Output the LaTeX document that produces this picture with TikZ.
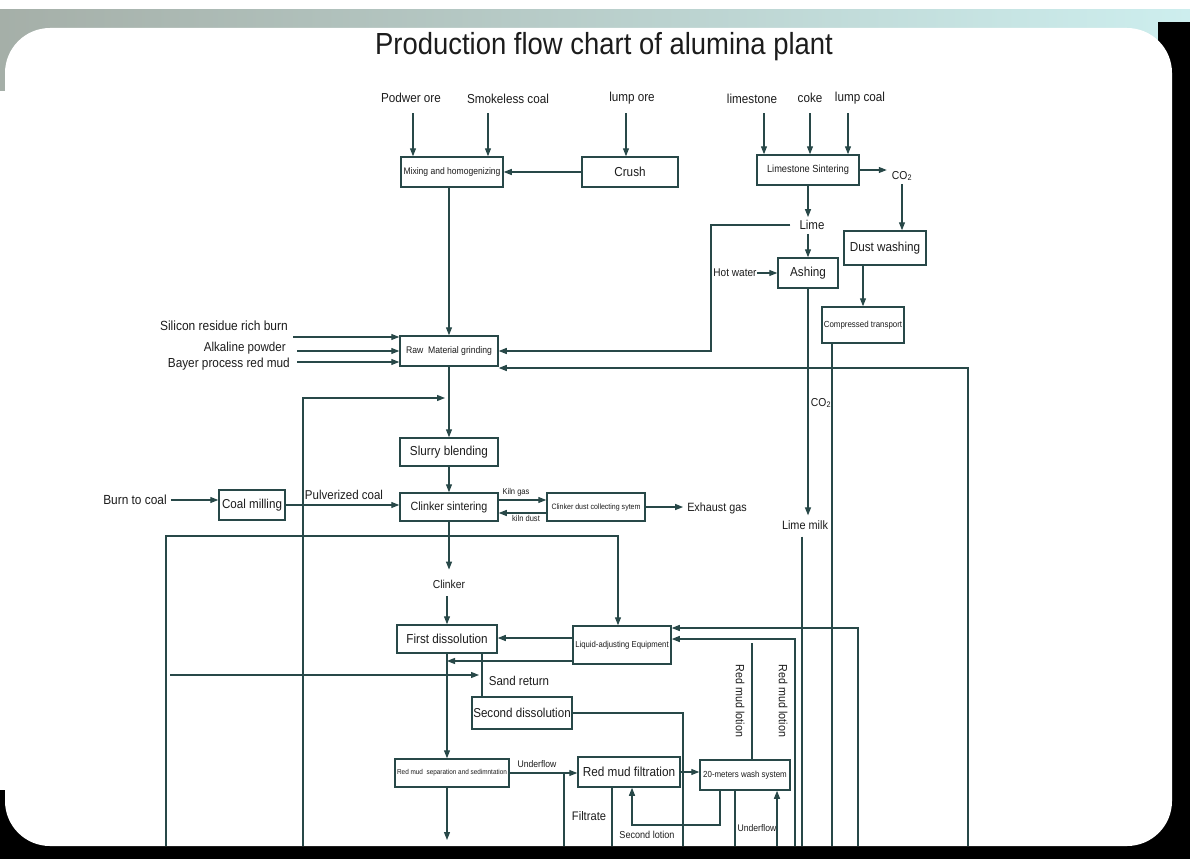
\documentclass[tikz,border=0pt]{standalone}
\usepackage{fontspec}
\setmainfont{Liberation Sans}[FakeStretch=0.9]
\usetikzlibrary{arrows.meta}
\definecolor{lc}{RGB}{40,72,72}
\definecolor{tc}{RGB}{28,28,28}
\definecolor{bandL}{RGB}{165,175,168}
\definecolor{bandR}{RGB}{205,238,238}
\newcommand{\fsz}[1]{\fontsize{#1}{#1}\selectfont}
\begin{document}
\begin{tikzpicture}[x=1pt,y=-1pt,
  ln/.style={draw=lc,line width=1.2pt},
  arr/.style={ln,-{Triangle[length=8pt,width=6pt]}},
  box/.style={draw=lc,line width=1.5pt,inner sep=0pt,text=tc},
  lbl/.style={inner sep=0pt,text=tc}]
% background / frame
\useasboundingbox (0,0) rectangle (1190,859);
\fill[white] (0,0) rectangle (1190,859);
\shade[left color=bandL,right color=bandR] (0,10) rectangle (1190,90);
\fill[black] (1158,22) rectangle (1190,859);
\fill[black] (0,790) rectangle (1190,859);
\fill[white,rounded corners=45pt] (5,28) rectangle (1172,846);

% title
\node[lbl,font=\fsz{30.5}] (title) at (604,47) {Production flow chart of alumina plant};

% top inputs
\node[lbl,font=\fsz{13}] (podw) at (411,98) {Podwer ore};
\node[lbl,font=\fsz{13}] (smok) at (508,99) {Smokeless coal};
\node[lbl,font=\fsz{13}] (lumpo) at (632,98) {lump ore};
\node[lbl,font=\fsz{13}] (limes) at (752,99) {limestone};
\node[lbl,font=\fsz{13}] (coke) at (810,98) {coke};
\node[lbl,font=\fsz{13}] (lumpc) at (860,98) {lump coal};

% boxes and labels
\node[box,minimum width=102pt,minimum height=30pt,font=\fsz{9.5}] (mix) at (452,172) {Mixing and homogenizing};
\node[box,minimum width=96pt,minimum height=30pt,font=\fsz{13}] (crush) at (630,172) {Crush};
\node[box,minimum width=102pt,minimum height=30pt,font=\fsz{10.3}] (lsint) at (808,170) {Limestone Sintering};
\node[lbl,font=\fsz{11.5}] (co2a) at (902,176) {CO\textsubscript{2}};
\node[lbl,font=\fsz{12.8}] (lime) at (812,225) {Lime};
\node[box,minimum width=60pt,minimum height=30pt,font=\fsz{13}] (ash) at (808,273) {Ashing};
\node[lbl,font=\fsz{11.2}] (hotw) at (735,273) {Hot water};
\node[box,minimum width=82pt,minimum height=34pt,font=\fsz{13}] (dust) at (885,248) {Dust washing};
\node[box,minimum width=82pt,minimum height=36pt,font=\fsz{8.8}] (comp) at (863,325) {Compressed transport};
\node[box,minimum width=98pt,minimum height=30pt,font=\fsz{9.6}] (raw) at (449,351) {Raw\ \ Material grinding};
\node[lbl,font=\fsz{13.3},anchor=east] (sil) at (288,326) {Silicon residue rich burn};
\node[lbl,font=\fsz{12.9},anchor=east] (alk) at (286,348) {Alkaline powder};
\node[lbl,font=\fsz{13.1},anchor=east] (bay) at (290,364) {Bayer process red mud};
\node[box,minimum width=98pt,minimum height=28pt,font=\fsz{13}] (slurry) at (449,452) {Slurry blending};
\node[box,minimum width=98pt,minimum height=28pt,font=\fsz{11.9}] (clink) at (449,507) {Clinker sintering};
\node[lbl,font=\fsz{13.2}] (burn) at (135,500) {Burn to coal};
\node[box,minimum width=66pt,minimum height=30pt,font=\fsz{12.9}] (coal) at (252,505) {Coal milling};
\node[lbl,font=\fsz{12.8}] (pulv) at (344,495) {Pulverized coal};
\node[box,minimum width=98pt,minimum height=28pt,font=\fsz{7.8}] (cdust) at (596,507) {Clinker dust collecting sytem};
\node[lbl,font=\fsz{8.4}] (kgas) at (516,492) {Kiln gas};
\node[lbl,font=\fsz{8.4}] (kdust) at (526,518) {kiln dust};
\node[lbl,font=\fsz{12}] (exh) at (717,508) {Exhaust gas};
\node[lbl,font=\fsz{11.5}] (clinker) at (449,584) {Clinker};
\node[box,minimum width=100pt,minimum height=28pt,font=\fsz{13}] (first) at (447,639) {First dissolution};
\node[box,minimum width=98pt,minimum height=38pt,font=\fsz{8.6}] (liq) at (622,645) {Liquid-adjusting Equipment};
\node[lbl,font=\fsz{12.8}] (sand) at (519,681) {Sand return};
\node[box,minimum width=100pt,minimum height=32pt,font=\fsz{12.9}] (second) at (522,713) {Second dissolution};
\node[lbl,font=\fsz{11.9},rotate=-90] (rml1) at (740,701) {Red mud lotion};
\node[lbl,font=\fsz{11.9},rotate=-90] (rml2) at (783,701) {Red mud lotion};
\node[box,minimum width=114pt,minimum height=28pt,font=\fsz{7.1}] (sep) at (452,773) {Red mud\ \ separation and sedimntation};
\node[lbl,font=\fsz{9.6}] (uf1) at (537,764) {Underflow};
\node[box,minimum width=102pt,minimum height=30pt,font=\fsz{13.1}] (filt) at (629,772) {Red mud filtration};
\node[box,minimum width=90pt,minimum height=30pt,font=\fsz{8.8}] (wash) at (745,775) {20-meters wash system};
\node[lbl,font=\fsz{12.4}] (filtr) at (589,816) {Filtrate};
\node[lbl,font=\fsz{10.1}] (slot) at (647,835) {Second lotion};
\node[lbl,font=\fsz{9.6}] (uf2) at (757,828) {Underflow};
\node[lbl,font=\fsz{12.1}] (limemilk) at (805,525) {Lime milk};
\node[lbl,font=\fsz{11.5}] (co2b) at (821,403) {CO\textsubscript{2}};

% coordinates for free ends
\coordinate (p1) at (413,113);
\coordinate (p2) at (488,113);
\coordinate (p3) at (626,113);
\coordinate (p4) at (764,113);
\coordinate (p5) at (810,113);
\coordinate (p6) at (848,113);
\coordinate (lk) at (711,225);
\coordinate (cb) at (832,846);
\coordinate (lmb) at (802,846);
\coordinate (r968) at (968,846);
\coordinate (r968t) at (968,368);
\coordinate (s1) at (293,337);
\coordinate (s2) at (297,351);
\coordinate (s3) at (297,362);
\coordinate (l303) at (303,846);
\coordinate (l303t) at (303,398);
\coordinate (l166) at (166,846);
\coordinate (l166t) at (166,536);
\coordinate (l618) at (618,536);
\coordinate (sr) at (482,653);
\coordinate (h675) at (170,675);
\coordinate (d683) at (683,846);
\coordinate (sd) at (447,840);
\coordinate (f564) at (564,846);
\coordinate (f612) at (612,846);
\coordinate (w720) at (720,825);
\coordinate (f632) at (632,825);
\coordinate (w735) at (735,846);
\coordinate (w777) at (777,846);
\coordinate (r752) at (752,643);
\coordinate (r858) at (858,846);
\coordinate (r858t) at (858,628);
\coordinate (r795) at (795,846);
\coordinate (r795t) at (795,639);

% connectors
\draw[arr] (p1) -- (p1 |- mix.north);
\draw[arr] (p2) -- (p2 |- mix.north);
\draw[arr] (p3) -- (p3 |- crush.north);
\draw[arr] (p4) -- (p4 |- lsint.north);
\draw[arr] (p5) -- (p5 |- lsint.north);
\draw[arr] (p6) -- (p6 |- lsint.north);
\draw[arr] (crush.west) -- (mix.east);
\draw[arr,shorten >=5pt] (lsint.east) -- (lsint.east -| co2a.west);
\draw[arr,shorten >=3pt] (lsint.south) -- (lsint.south |- lime.north);
\draw[arr,shorten <=4pt] (ash.north |- lime.south) -- (ash.north);
\draw[arr] (hotw.east) -- (ash.west);
\draw[arr,shorten <=9pt] (lime.west) -- (lk) -- (lk |- raw.east) -- (raw.east);
\draw[arr,shorten <=3pt] (co2a.south) -- (co2a.south |- dust.north);
\draw[arr] (comp.north |- dust.south) -- (comp.north);
\draw[ln] (cb |- comp.south) -- (cb);
\draw[arr,shorten >=5pt] (ash.south) -- (ash.south |- limemilk.north);
\draw[ln,shorten <=7pt] (lmb |- limemilk.south) -- (lmb);
\draw[arr] (r968) -- (r968t) -- (r968t -| raw.east);
\draw[arr] (raw.north |- mix.south) -- (raw.north);
\draw[arr] (s1) -- (s1 -| raw.west);
\draw[arr] (s2) -- (s2 -| raw.west);
\draw[arr] (s3) -- (s3 -| raw.west);
\draw[arr] (raw.south) -- (slurry.north);
\draw[arr,shorten >=4pt] (l303) -- (l303t) -- (l303t -| raw.south);
\draw[arr] (slurry.south) -- (clink.north);
\draw[arr,shorten <=4pt] (burn.east) -- (burn.east -| coal.west);
\draw[arr] (coal.east) -- (coal.east -| clink.west);
\draw[arr] ([yshift=7pt]clink.east) -- ([yshift=7pt]cdust.west);
\draw[arr] ([yshift=-6pt]cdust.west) -- ([yshift=-6pt]clink.east);
\draw[arr,shorten >=4pt] (cdust.east) -- (cdust.east -| exh.west);
\draw[arr,shorten >=10pt] (clink.south) -- (clinker.north);
\draw[arr,shorten <=8pt] (first.north |- clinker.south) -- (first.north);
\draw[arr] (l166) -- (l166t) -- (l618) -- (l618 |- liq.north);
\draw[arr] ([yshift=7pt]liq.west) -- ([yshift=7pt]liq.west -| first.east);
\draw[arr] ([yshift=-16pt]liq.west) -- ([yshift=-16pt]liq.west -| first.south);
\draw[arr] (first.south) -- (first.south |- sep.north);
\draw[ln] (sr) -- (sr |- second.north);
\draw[arr,shorten >=3pt] (h675) -- (h675 -| sr);
\draw[ln] (second.east) -| (d683);
\draw[arr] (sep.east) -- (sep.east -| filt.west);
\draw[arr] (sd |- sep.south) -- (sd);
\draw[arr] (filt.east) -- (filt.east -| wash.west);
\draw[ln] (f564 |- sep.east) -- (f564);
\draw[ln] (f612 |- filt.south) -- (f612);
\draw[arr] (w720 |- wash.south) -- (w720) -- (f632) -- (f632 |- filt.south);
\draw[ln] (w735 |- wash.south) -- (w735);
\draw[arr] (w777) -- (w777 |- wash.south);
\draw[ln] (r752) -- (r752 |- wash.north);
\draw[arr] (r858) -- (r858t) -- (r858t -| liq.east);
\draw[arr] (r795) -- (r795t) -- (r795t -| liq.east);
\end{tikzpicture}
\end{document}
